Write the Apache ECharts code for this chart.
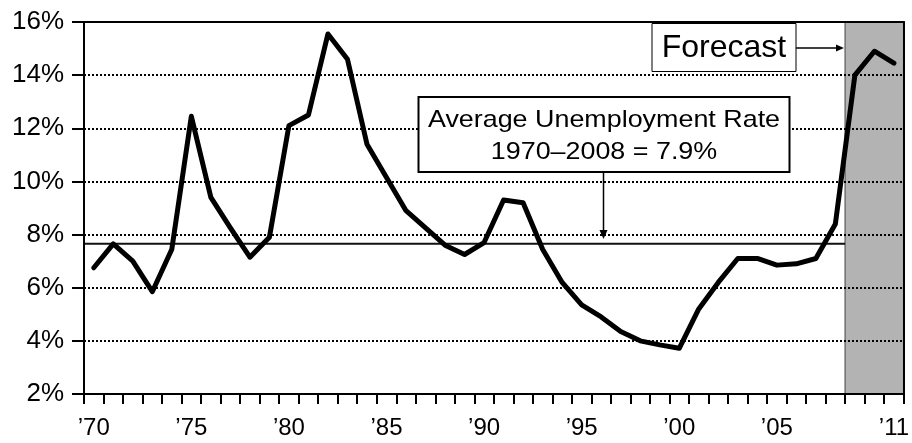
<!DOCTYPE html>
<html>
<head>
<meta charset="utf-8">
<script src="https://cdn.jsdelivr.net/npm/echarts@6/dist/echarts.min.js"></script>
<style>
html, body { margin: 0; padding: 0; background: #fff; }
#chart { width: 912px; height: 443px; }
</style>
</head>
<body>
<div id="chart"></div>
<script>
// yearly unemployment rate, % (2009-2011 are forecast)
var years = [1970, 1971, 1972, 1973, 1974, 1975, 1976, 1977, 1978, 1979,
             1980, 1981, 1982, 1983, 1984, 1985, 1986, 1987, 1988, 1989,
             1990, 1991, 1992, 1993, 1994, 1995, 1996, 1997, 1998, 1999,
             2000, 2001, 2002, 2003, 2004, 2005, 2006, 2007, 2008, 2009,
             2010, 2011];
var rates = [6.75, 7.65, 7.0, 5.85, 7.45, 12.45, 9.4, 8.25, 7.15, 7.9,
             12.1, 12.5, 15.55, 14.6, 11.4, 10.15, 8.9, 8.25, 7.6, 7.25,
             7.7, 9.3, 9.2, 7.45, 6.2, 5.35, 4.9, 4.35, 4.0, 3.85,
             3.72, 5.2, 6.2, 7.1, 7.1, 6.85, 6.9, 7.1, 8.4, 14.0,
             14.9, 14.45];
var labelYears = [1970, 1975, 1980, 1985, 1990, 1995, 2000, 2005, 2011];
var averageRate = 7.65;
var averageText = ['Average Unemployment Rate', '1970\u20132008 = 7.9%'];
var forecastStart = 2009;
var forecastText = 'Forecast';

var font = "'Liberation Sans', Arial, Helvetica, sans-serif";
var myChart = echarts.init(document.getElementById('chart'));

var option = {
    animation: false,
    textStyle: { fontFamily: font },
    grid: { left: 84, right: 5, top: 22, bottom: 49 },
    xAxis: [
        {
            type: 'category',
            data: years,
            boundaryGap: true,
            position: 'bottom',
            z: 5,
            axisLine: { show: true, onZero: false, lineStyle: { color: '#000', width: 2 } },
            axisTick: { show: true, interval: 0, alignWithLabel: false, inside: false, length: 10, lineStyle: { color: '#000', width: 2 } },
            axisLabel: {
                interval: function (idx, val) { return labelYears.indexOf(+val) >= 0; },
                formatter: function (val) { return '\u2019' + String(val).slice(2); },
                color: '#000', fontSize: 24, margin: 22, fontFamily: font
            },
            splitLine: { show: false }
        },
        {
            // hidden helper axis in years, used for the average line and the shaded area
            type: 'value',
            min: years[0],
            max: years[years.length - 1] + 1,
            position: 'top',
            z: 5,
            axisLine: { show: true, onZero: false, lineStyle: { color: '#000', width: 2 } },
            axisTick: { show: false },
            axisLabel: { show: false },
            splitLine: { show: false }
        }
    ],
    yAxis: [
        {
            type: 'value',
            min: 2, max: 16, interval: 2,
            z: 5,
            axisLine: { show: true, lineStyle: { color: '#000', width: 2 } },
            axisTick: { show: true, length: 12, lineStyle: { color: '#000', width: 2 } },
            axisLabel: { formatter: '{value}%', color: '#000', fontSize: 26, margin: 20, fontFamily: font },
            splitLine: { show: true, lineStyle: { color: '#000', width: 2, type: [2, 2] } }
        },
        {
            type: 'value',
            min: 2, max: 16, interval: 2,
            position: 'right',
            z: 5,
            axisLine: { show: true, lineStyle: { color: '#000', width: 2 } },
            axisTick: { show: false },
            axisLabel: { show: false },
            splitLine: { show: false }
        }
    ],
    series: [
        {
            type: 'line',
            xAxisIndex: 1,
            yAxisIndex: 0,
            data: [],
            z: 1,
            markArea: {
                silent: true,
                itemStyle: { color: '#b3b3b3', borderColor: '#707070', borderWidth: 1.5 },
                data: [[{ xAxis: forecastStart }, { xAxis: years[years.length - 1] + 1 }]]
            }
        },
        {
            type: 'line',
            xAxisIndex: 1,
            yAxisIndex: 0,
            data: [[years[0], averageRate], [forecastStart, averageRate]],
            symbol: 'none',
            z: 2,
            lineStyle: { color: '#111', width: 2 }
        },
        {
            type: 'line',
            xAxisIndex: 0,
            yAxisIndex: 0,
            data: rates,
            symbol: 'none',
            z: 3,
            lineStyle: { color: '#000', width: 5, join: 'round', cap: 'round' }
        }
    ],
    graphic: [
        {
            type: 'rect', z: 100,
            shape: { x: 418.5, y: 97, width: 371, height: 75 },
            style: { fill: '#fff', stroke: '#000', lineWidth: 2 }
        },
        {
            type: 'text', z: 101, x: 604, y: 120, scaleX: 1.12,
            style: { text: averageText[0], fill: '#000', font: '24px ' + font, align: 'center', verticalAlign: 'middle' }
        },
        {
            type: 'text', z: 101, x: 604, y: 152, scaleX: 1.12,
            style: { text: averageText[1], fill: '#000', font: '24px ' + font, align: 'center', verticalAlign: 'middle' }
        },
        {
            type: 'line', z: 100,
            shape: { x1: 603.5, y1: 172, x2: 603.5, y2: 232 },
            style: { stroke: '#000', lineWidth: 1.5 }
        },
        {
            type: 'polygon', z: 100,
            shape: { points: [[599.5, 230], [607.5, 230], [603.5, 239]] },
            style: { fill: '#000' }
        },
        {
            type: 'rect', z: 100,
            shape: { x: 652, y: 23.5, width: 144, height: 48 },
            style: { fill: '#fff', stroke: '#000', lineWidth: 1 }
        },
        {
            type: 'text', z: 101, x: 724, y: 48,
            style: { text: forecastText, fill: '#000', font: '32px ' + font, align: 'center', verticalAlign: 'middle' }
        },
        {
            type: 'line', z: 100,
            shape: { x1: 796, y1: 48, x2: 838, y2: 48 },
            style: { stroke: '#000', lineWidth: 1.5 }
        },
        {
            type: 'polygon', z: 100,
            shape: { points: [[836, 44.5], [836, 51.5], [844, 48]] },
            style: { fill: '#000' }
        }
    ]
};
myChart.setOption(option);
</script>
</body>
</html>
